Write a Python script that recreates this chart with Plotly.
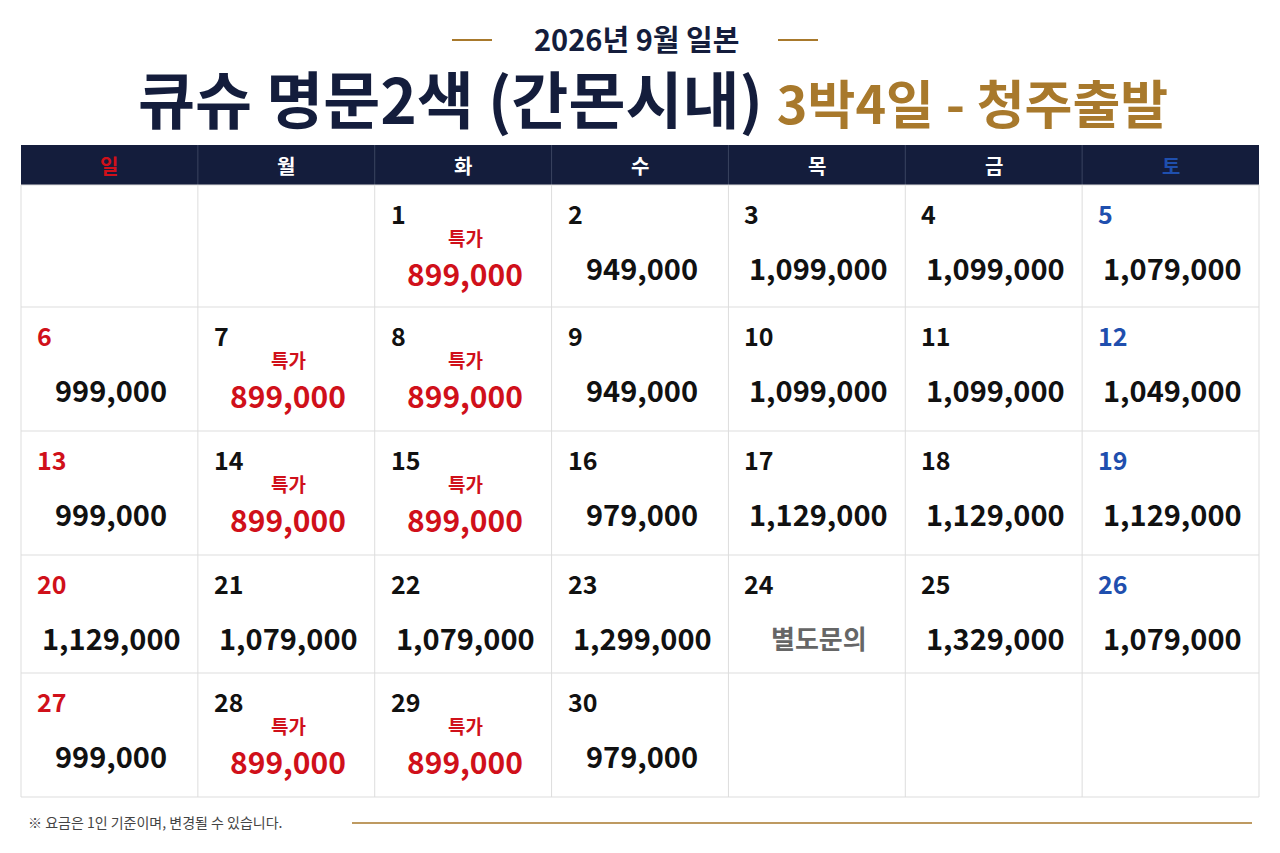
import plotly.graph_objects as go

weekdays = ["일", "월", "화", "수", "목", "금", "토"]
days = list(range(1, 31))
start_col = 2
prices = ["899,000", "949,000", "1,099,000", "1,099,000", "1,079,000",
          "999,000", "899,000", "899,000", "949,000", "1,099,000", "1,099,000", "1,049,000",
          "999,000", "899,000", "899,000", "979,000", "1,129,000", "1,129,000", "1,129,000",
          "1,129,000", "1,079,000", "1,079,000", "1,299,000", "별도문의", "1,329,000", "1,079,000",
          "999,000", "899,000", "899,000", "979,000"]
special = [1, 7, 8, 14, 15, 28, 29]

NAVY = "#141d3c"; GOLD = "#a8792c"; RED = "#d0101a"; BLUE = "#1f4fae"
FONT = "Noto Sans CJK KR"
X0, X1 = 21, 1259
HY0, HY1 = 145, 185
rows_y = [185, 307, 431, 555, 673, 797]
cw = (X1 - X0) / 7

fig = go.Figure()
shapes = []
ann = []
shapes.append(dict(type="rect", x0=X0, x1=X1, y0=HY0, y1=HY1, fillcolor=NAVY, line_width=0, layer="below"))
for i, w in enumerate(weekdays):
    c = RED if i == 0 else (BLUE if i == 6 else "white")
    ann.append(dict(x=X0 + cw * (i + 0.5), y=(HY0 + HY1) / 2, text=f"<b>{w}</b>", showarrow=False,
                    font=dict(color=c, size=20, family=FONT)))
    if i > 0:
        shapes.append(dict(type="line", x0=X0 + cw * i, x1=X0 + cw * i, y0=HY0, y1=HY1, line=dict(color="#3a4460", width=1)))
for i in range(8):
    shapes.append(dict(type="line", x0=X0 + cw * i, x1=X0 + cw * i, y0=HY1, y1=rows_y[-1], line=dict(color="#dddddd", width=1)))
for y in rows_y:
    shapes.append(dict(type="line", x0=X0, x1=X1, y0=y, y1=y, line=dict(color="#dddddd", width=1)))

for d, p in zip(days, prices):
    idx = d - 1 + start_col
    r, c = divmod(idx, 7)
    cx = X0 + cw * c
    top = rows_y[r]
    dc = RED if c == 0 else (BLUE if c == 6 else "#111111")
    ann.append(dict(x=cx + 14, y=top + 28, text=f"<b>{d}</b>", showarrow=False, xanchor="left",
                    font=dict(color=dc, size=25, family=FONT)))
    if d in special:
        ann.append(dict(x=cx + cw / 2 + 2, y=top + 52, text="<b>특가</b>", showarrow=False,
                        font=dict(color=RED, size=19, family=FONT)))
        ann.append(dict(x=cx + cw / 2 + 2, y=top + 88, text=f"<b>{p}</b>", showarrow=False,
                        font=dict(color=RED, size=30, family=FONT)))
    else:
        col = "#666666" if p == "별도문의" else "#111111"
        ann.append(dict(x=cx + cw / 2 + 2, y=top + 82, text=f"<b>{p}</b>", showarrow=False,
                        font=dict(color=col, size=29 if p != "별도문의" else 26, family=FONT)))

ann.append(dict(x=636, y=38, text="<b>2026년 9월 일본</b>", showarrow=False,
                font=dict(color=NAVY, size=29, family=FONT)))
shapes.append(dict(type="line", x0=452, x1=492, y0=40, y1=40, line=dict(color=GOLD, width=2)))
shapes.append(dict(type="line", x0=778, x1=818, y0=40, y1=40, line=dict(color=GOLD, width=2)))
ann.append(dict(x=653, y=97, text=f"<b>큐슈 명문2색 (간몬시내)</b> <span style='font-size:52px;color:{GOLD}'><b>3박4일 - 청주출발</b></span>",
                showarrow=False, font=dict(color=NAVY, size=62, family=FONT)))
ann.append(dict(x=26, y=822, text="※ 요금은 1인 기준이며, 변경될 수 있습니다.", showarrow=False, xanchor="left",
                font=dict(color="#444444", size=14, family=FONT)))
shapes.append(dict(type="line", x0=352, x1=1252, y0=823, y1=823, line=dict(color=GOLD, width=1.5)))

fig.update_layout(width=1280, height=853, margin=dict(l=0, r=0, t=0, b=0),
                  paper_bgcolor="white", plot_bgcolor="white", shapes=shapes, annotations=ann,
                  xaxis=dict(range=[8, 1288], visible=False, fixedrange=True),
                  yaxis=dict(range=[861, 8], visible=False, fixedrange=True), showlegend=False)
fig.write_html("out.html", config={"displayModeBar": False})
